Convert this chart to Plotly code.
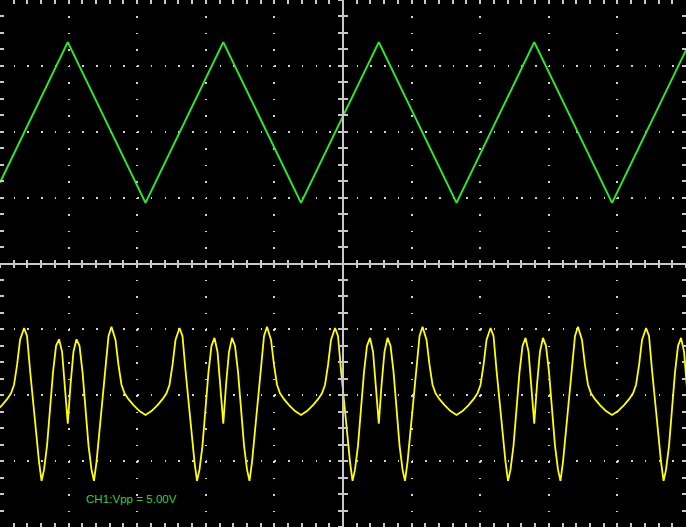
import plotly.graph_objects as go

# Time axis in screen divisions (0..10), amplitude in vertical divisions (-4..4)
green_t = [0.0, 0.988, 2.121, 3.255, 4.388, 5.522, 6.655, 7.788, 8.922, 10.0]
green_v = [1.23, 3.36, 0.92, 3.36, 0.92, 3.36, 0.92, 3.36, 0.92, 3.24]

yellow_t = [
    -0.145, -0.058, 0.030, 0.103, 0.161, 0.205, 0.249, 0.292, 0.351, 0.394, 0.438, 0.482,
    0.526, 0.569, 0.606, 0.642, 0.686, 0.730, 0.773, 0.817, 0.861, 0.905, 0.948, 0.988,
    1.028, 1.071, 1.115, 1.159, 1.203, 1.246, 1.290, 1.334, 1.370, 1.407, 1.450, 1.494,
    1.538, 1.582, 1.625, 1.684, 1.727, 1.771, 1.815, 1.873, 1.946, 2.034,
    2.121, 2.208, 2.296, 2.369, 2.427, 2.471, 2.515, 2.558, 2.617, 2.660, 2.704, 2.748,
    2.792, 2.835, 2.872, 2.908, 2.952, 2.996, 3.039, 3.083, 3.127, 3.171, 3.214, 3.255,
    3.295, 3.338, 3.382, 3.426, 3.470, 3.513, 3.557, 3.601, 3.637, 3.674, 3.717, 3.761,
    3.805, 3.849, 3.892, 3.951, 3.994, 4.038, 4.082, 4.140, 4.213, 4.301,
    4.388, 4.475, 4.563, 4.636, 4.694, 4.738, 4.782, 4.825, 4.884, 4.927, 4.971, 5.015,
    5.059, 5.102, 5.139, 5.175, 5.219, 5.263, 5.306, 5.350, 5.394, 5.438, 5.481, 5.522,
    5.562, 5.605, 5.649, 5.693, 5.737, 5.780, 5.824, 5.868, 5.904, 5.941, 5.984, 6.028,
    6.072, 6.116, 6.159, 6.218, 6.261, 6.305, 6.349, 6.407, 6.480, 6.568,
    6.655, 6.742, 6.830, 6.903, 6.961, 7.005, 7.049, 7.092, 7.151, 7.194, 7.238, 7.282,
    7.326, 7.369, 7.406, 7.442, 7.486, 7.530, 7.573, 7.617, 7.661, 7.705, 7.748, 7.788,
    7.828, 7.871, 7.915, 7.959, 8.003, 8.046, 8.090, 8.134, 8.170, 8.207, 8.250, 8.294,
    8.338, 8.382, 8.425, 8.484, 8.527, 8.571, 8.615, 8.673, 8.746, 8.834,
    8.922, 9.009, 9.097, 9.170, 9.228, 9.272, 9.316, 9.359, 9.418, 9.461, 9.505, 9.549,
    9.593, 9.636, 9.673, 9.709, 9.753, 9.797, 9.840, 9.884, 9.928, 9.972, 10.015, 10.055,
]

yellow_v = [
    -2.30, -2.24, -2.15, -2.06, -1.97, -1.84, -1.54, -1.16, -0.98, -1.10, -1.62, -2.10,
    -2.52, -3.01, -3.30, -3.13, -2.76, -2.19, -1.65, -1.25, -1.15, -1.34, -1.84, -2.43,
    -1.84, -1.34, -1.15, -1.25, -1.65, -2.19, -2.76, -3.13, -3.30, -3.01, -2.52, -2.10,
    -1.62, -1.10, -0.96, -1.16, -1.54, -1.84, -1.97, -2.06, -2.15, -2.24,
    -2.30, -2.24, -2.15, -2.06, -1.97, -1.84, -1.54, -1.16, -0.98, -1.10, -1.62, -2.10,
    -2.52, -3.01, -3.30, -3.13, -2.76, -2.19, -1.65, -1.25, -1.13, -1.34, -1.84, -2.43,
    -1.84, -1.34, -1.13, -1.25, -1.65, -2.19, -2.76, -3.13, -3.30, -3.01, -2.52, -2.10,
    -1.62, -1.10, -0.96, -1.16, -1.54, -1.84, -1.97, -2.06, -2.15, -2.24,
    -2.30, -2.24, -2.15, -2.06, -1.97, -1.84, -1.54, -1.16, -0.98, -1.10, -1.62, -2.10,
    -2.52, -3.01, -3.30, -3.13, -2.76, -2.19, -1.65, -1.25, -1.13, -1.34, -1.84, -2.43,
    -1.84, -1.34, -1.13, -1.25, -1.65, -2.19, -2.76, -3.13, -3.30, -3.01, -2.52, -2.10,
    -1.62, -1.10, -0.96, -1.16, -1.54, -1.84, -1.97, -2.06, -2.15, -2.24,
    -2.30, -2.24, -2.15, -2.06, -1.97, -1.84, -1.54, -1.16, -0.98, -1.10, -1.62, -2.10,
    -2.52, -3.01, -3.30, -3.13, -2.76, -2.19, -1.65, -1.25, -1.13, -1.34, -1.84, -2.43,
    -1.84, -1.34, -1.13, -1.25, -1.65, -2.19, -2.76, -3.13, -3.30, -3.01, -2.52, -2.10,
    -1.62, -1.10, -0.96, -1.16, -1.54, -1.84, -1.97, -2.06, -2.15, -2.24,
    -2.30, -2.24, -2.15, -2.06, -1.97, -1.84, -1.54, -1.16, -0.98, -1.10, -1.62, -2.10,
    -2.52, -3.01, -3.30, -3.13, -2.76, -2.19, -1.65, -1.25, -1.13, -1.34, -1.84, -2.43,
]

label_text = "CH1:Vpp = 5.00V"

GRID = "#d2d2d2"
AXC = "#c8c8c8"

fig = go.Figure()
fig.add_trace(go.Scatter(x=green_t, y=green_v, mode="lines",
                         line=dict(color="#2fe62f", width=2), hoverinfo="skip"))
fig.add_trace(go.Scatter(x=yellow_t, y=yellow_v, mode="lines",
                         line=dict(color="#ffff00", width=1.8), hoverinfo="skip"))
# dummy traces so the centre-cross overlay axes are drawn
fig.add_trace(go.Scatter(x=[None], y=[None], xaxis="x2", yaxis="y2", hoverinfo="skip"))
fig.add_trace(go.Scatter(x=[None], y=[None], xaxis="x3", yaxis="y3", hoverinfo="skip"))

fig.update_layout(
    width=686, height=527,
    margin=dict(l=0, r=0, t=0, b=0),
    paper_bgcolor="black", plot_bgcolor="black",
    showlegend=False,
    xaxis=dict(range=[0, 10], tick0=0, dtick=1, showgrid=True, gridcolor=GRID,
               gridwidth=1.5, griddash="1.5px,14.97px", zeroline=False,
               showline=False, showticklabels=False, ticks="inside", ticklen=4,
               tickwidth=1.5, tickcolor=AXC, mirror="ticks",
               minor=dict(dtick=0.2, tick0=0, ticks="inside", ticklen=4,
                          tickwidth=1.5, tickcolor=AXC, showgrid=False)),
    yaxis=dict(range=[-4, 4], tick0=0, dtick=1, showgrid=True, gridcolor=GRID,
               gridwidth=1.5, griddash="1.5px,12.22px", zeroline=False,
               showline=False, showticklabels=False, ticks="inside", ticklen=4,
               tickwidth=1.5, tickcolor=AXC, mirror="ticks",
               minor=dict(dtick=0.25, tick0=0, ticks="inside", ticklen=4,
                          tickwidth=1.5, tickcolor=AXC, showgrid=False)),
    xaxis2=dict(range=[0, 10], overlaying="x", anchor="free", position=0.5,
                showline=True, linecolor=AXC, linewidth=1.5, showgrid=False,
                zeroline=False, showticklabels=False, ticks="outside", ticklen=4,
                tickwidth=1.5, tickcolor=AXC, tick0=0, dtick=0.2),
    xaxis3=dict(range=[0, 10], overlaying="x", anchor="free", position=0.5,
                showline=False, showgrid=False, zeroline=False,
                showticklabels=False, ticks="inside", ticklen=4, tickwidth=1.5,
                tickcolor=AXC, tick0=0, dtick=0.2),
    yaxis2=dict(range=[-4, 4], overlaying="y", anchor="free", position=0.5,
                showline=True, linecolor=AXC, linewidth=1.5, showgrid=False,
                zeroline=False, showticklabels=False, ticks="outside", ticklen=4,
                tickwidth=1.5, tickcolor=AXC, tick0=0, dtick=0.25),
    yaxis3=dict(range=[-4, 4], overlaying="y", anchor="free", position=0.5,
                showline=False, showgrid=False, zeroline=False,
                showticklabels=False, ticks="inside", ticklen=4, tickwidth=1.5,
                tickcolor=AXC, tick0=0, dtick=0.25),
    annotations=[dict(text=label_text, xref="paper", yref="paper",
                      x=0.1224, y=0.054, xanchor="left", yanchor="middle",
                      showarrow=False,
                      font=dict(family="Liberation Sans, Arial", size=11.6,
                                color="#3ccf3c"))],
)

fig.write_html("out.html",
               config={"displayModeBar": False},
               post_script="document.body.style.margin='0px';"
                           "document.body.style.overflow='hidden';"
                           "document.body.style.background='black';")
